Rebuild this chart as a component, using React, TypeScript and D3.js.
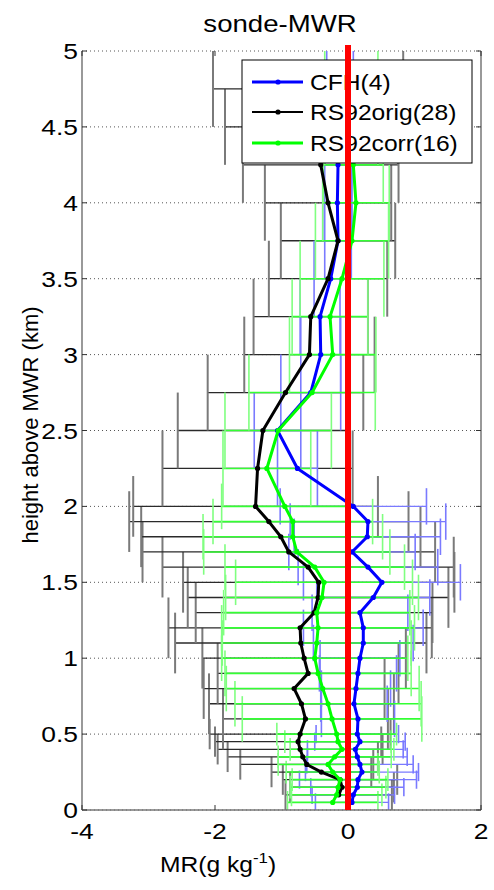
import React from 'react';
import * as d3 from 'd3';

// heights (km) of the profile levels
const heights = [0.05, 0.1, 0.15, 0.2, 0.25, 0.3, 0.35, 0.4, 0.45, 0.5,
  0.6, 0.7, 0.8, 0.9, 1.0, 1.1, 1.2, 1.3, 1.4, 1.5, 1.6, 1.7, 1.8, 1.9, 2.0,
  2.25, 2.5, 2.75, 3.0, 3.25, 3.5, 3.75, 4.0, 4.25, 4.5, 4.75];

// CFH(4) mean difference and spread (g/kg)
const cfhMean = [0.06, 0.08, 0.14, 0.15, 0.21, 0.18, 0.14, 0.11, 0.18, 0.14,
  0.15, 0.09, 0.12, 0.15, 0.18, 0.23, 0.23, 0.18, 0.38, 0.51, 0.30, 0.06, 0.29, 0.30, 0.08,
  -0.76, -1.06, -0.56, -0.41, -0.42, -0.26, -0.15, -0.16, -0.15, -0.15, -0.12];
const cfhErr = [0.55, 0.62, 0.7, 0.88, 0.85, 0.8, 0.75, 0.72, 0.68, 0.62,
  0.55, 0.5, 0.52, 0.58, 0.6, 0.75, 0.9, 0.72, 0.85, 1.18, 1.05, 0.95, 1.1, 1.17, 1.1,
  0.3, 0.35, 0.45, 0.3, 0.3, 0.25, 0.2, 0.22, 0.2, 0.2, 0.2];

// RS92orig(28)
const origMean = [null, -0.14, -0.09, -0.12, -0.40, -0.62, -0.68, -0.72, -0.75, -0.72,
  -0.64, -0.70, -0.81, -0.60, -0.66, -0.71, -0.72, -0.51, -0.45, -0.44, -0.60, -0.89, -1.01, -1.19, -1.39,
  -1.36, -1.28, -0.94, -0.58, -0.56, -0.30, -0.15, -0.30, -0.41, -0.55, -0.60];
const origErr = [null, 0.80, 0.78, 0.86, 0.75, 1.0, 1.13, 1.24, 1.25, 1.36,
  1.24, 1.39, 1.36, 1.36, 1.53, 1.89, 1.98, 1.78, 1.96, 2.04, 2.19, 2.2, 2.1, 2.1, 1.84,
  1.43, 1.28, 1.17, 0.98, 0.86, 0.89, 0.86, 0.95, 1.17, 1.3, 1.43];

// RS92corr(16)
const corrMean = [-0.23, -0.17, -0.15, -0.12, -0.23, -0.30, -0.20, -0.09, -0.15, -0.17,
  -0.24, -0.30, -0.38, -0.45, -0.50, -0.47, -0.45, -0.47, -0.39, -0.36, -0.50, -0.77, -0.83, -0.83, -0.95,
  -1.22, -1.05, -0.54, -0.23, -0.27, -0.09, 0.06, 0.12, 0.08, 0.05, 0.05];
const corrErr = [0.68, 0.68, 0.72, 0.72, 0.7, 0.75, 0.85, 0.78, 0.8, 0.9,
  1.35, 1.4, 1.45, 1.4, 1.4, 1.42, 1.45, 1.4, 1.45, 1.33, 1.35, 1.4, 1.35, 1.2, 0.95,
  0.66, 0.8, 0.95, 0.65, 0.57, 0.63, 0.55, 0.5, 0.45, 0.4, 0.4];

const xTicks = [-4, -2, 0, 2];
const yTicks = [0, 0.5, 1, 1.5, 2, 2.5, 3, 3.5, 4, 4.5, 5];
const legendLabels = ['CFH(4)', 'RS92orig(28)', 'RS92corr(16)'];

type Series = {
  mean: (number | null)[];
  err: (number | null)[];
  line: string;
  lineW: number;
  bar: string;
  cap: string;
  barW: number;
  capW: number;
  capK: number;
};

const series: Series[] = [
  { mean: origMean, err: origErr, line: '#000000', lineW: 3, bar: '#2a2a2a', cap: '#7a7a7a', barW: 1.3, capW: 2, capK: 2 },
  { mean: cfhMean, err: cfhErr, line: '#0000ff', lineW: 3, bar: '#7a7aff', cap: '#7a7aff', barW: 1.3, capW: 1.6, capK: 1.2 },
  { mean: corrMean, err: corrErr, line: '#00ff00', lineW: 3, bar: '#33ff33', cap: '#80ff80', barW: 1.6, capW: 1.6, capK: 1.5 },
];
const lineOrder = [1, 0, 2];

const FONT = '"Liberation Sans", Arial, sans-serif';

function capHalf(h: number, k: number) {
  if (h > 2.01) return 0.25;
  const sp = h <= 0.5 ? 0.05 : 0.1;
  return sp * k;
}

export default function App() {
  const W = 494, H = 890;
  const L = 82, R = 481, T = 51, B = 810;
  const x = d3.scaleLinear().domain([-4, 2]).range([L, R]);
  const y = d3.scaleLinear().domain([0, 5]).range([B, T]);
  const sx = 1.2;

  const lineGen = (s: Series) =>
    d3.line<number>()
      .defined((i) => s.mean[i] != null)
      .x((i) => x(s.mean[i] as number))
      .y((i) => y(heights[i]))(heights.map((_, i) => i)) || '';

  const legY = [82, 112, 143];

  return (
    <svg width={W} height={H} style={{ position: 'absolute', left: 0, top: 0, background: '#fff' }} fontFamily={FONT}>
      <defs>
        <clipPath id="plot"><rect x={L} y={T} width={R - L} height={B - T} /></clipPath>
      </defs>
      <rect x={0} y={0} width={W} height={H} fill="#fff" />
      {/* grid */}
      {yTicks.map((t) => (
        <line key={'g' + t} x1={L} x2={R} y1={y(t)} y2={y(t)} stroke="#555" strokeWidth={1} strokeDasharray="1,3" />
      ))}
      <g clipPath="url(#plot)">
        {series.map((s, si) => (
          <g key={'eb' + si}>
            {heights.map((h, i) => {
              const m = s.mean[i], e = s.err[i];
              if (m == null || e == null) return null;
              const c = capHalf(h, s.capK);
              return (
                <g key={i}>
                  <line x1={x(m - e)} x2={x(m + e)} y1={y(h)} y2={y(h)} stroke={s.bar} strokeWidth={s.barW} />
                  <line x1={x(m - e)} x2={x(m - e)} y1={y(h - c)} y2={y(h + c)} stroke={s.cap} strokeWidth={s.capW} />
                  <line x1={x(m + e)} x2={x(m + e)} y1={y(h - c)} y2={y(h + c)} stroke={s.cap} strokeWidth={s.capW} />
                </g>
              );
            })}
          </g>
        ))}
        {lineOrder.map((si) => {
          const s = series[si];
          return (
            <g key={'ln' + si}>
              <path d={lineGen(s)} fill="none" stroke={s.line} strokeWidth={s.lineW} strokeLinejoin="round" />
              {heights.map((h, i) => s.mean[i] == null ? null : (
                <circle key={i} cx={x(s.mean[i] as number)} cy={y(h)} r={2.6} fill={s.line} />
              ))}
            </g>
          );
        })}
      </g>
      {/* axes box */}
      <line x1={L} x2={L} y1={T} y2={B} stroke="#777" strokeWidth={1.5} />
      <line x1={R} x2={R} y1={T} y2={B} stroke="#777" strokeWidth={1.5} />
      <line x1={L} x2={R} y1={B} y2={B} stroke="#777" strokeWidth={1.5} />
      {yTicks.map((t) => (
        <g key={'yt' + t}>
          <line x1={L} x2={L + 5} y1={y(t)} y2={y(t)} stroke="#333" strokeWidth={1} />
          <line x1={R - 5} x2={R} y1={y(t)} y2={y(t)} stroke="#333" strokeWidth={1} />
          <text transform={`translate(${L - 4},${y(t) + 8}) scale(${sx},1)`} textAnchor="end" fontSize={22} fill="#000">{t}</text>
        </g>
      ))}
      {xTicks.map((t) => (
        <g key={'xt' + t}>
          <line x1={x(t)} x2={x(t)} y1={B} y2={B - 5} stroke="#333" strokeWidth={1} />
          <line x1={x(t)} x2={x(t)} y1={T} y2={T + 5} stroke="#333" strokeWidth={1} />
          <text transform={`translate(${x(t)},${839}) scale(${sx},1)`} textAnchor="middle" fontSize={22} fill="#000">{t < 0 ? '-' + Math.abs(t) : t}</text>
        </g>
      ))}
      {/* legend */}
      <rect x={242} y={60} width={230} height={103} fill="#fff" stroke="#000" strokeWidth={1} />
      {legendLabels.map((lab, i) => {
        const s = series[[1, 0, 2][i]];
        return (
          <g key={lab}>
            <line x1={252} x2={303} y1={legY[i]} y2={legY[i]} stroke={s.line} strokeWidth={i === 1 ? 2 : 3} />
            <circle cx={278} cy={legY[i]} r={2.6} fill={s.line} />
            <text transform={`translate(310,${legY[i] + 8}) scale(1.12,1)`} fontSize={22} fill="#000">{lab}</text>
          </g>
        );
      })}
      {/* zero line */}
      <line x1={x(0)} x2={x(0)} y1={T - 6} y2={B} stroke="#ff0000" strokeWidth={6} />
      {/* titles */}
      <text transform={`translate(280,32) scale(1.2,1)`} textAnchor="middle" fontSize={23} fill="#000">sonde-MWR</text>
      <text transform={`translate(218,872) scale(1.12,1)`} textAnchor="middle" fontSize={22} fill="#000">
        MR(g kg<tspan dy={-9} fontSize={15}>-1</tspan><tspan dy={9}>)</tspan>
      </text>
      <text transform={`translate(38,425) rotate(-90)`} textAnchor="middle" fontSize={22} fill="#000">height above MWR (km)</text>
    </svg>
  );
}
